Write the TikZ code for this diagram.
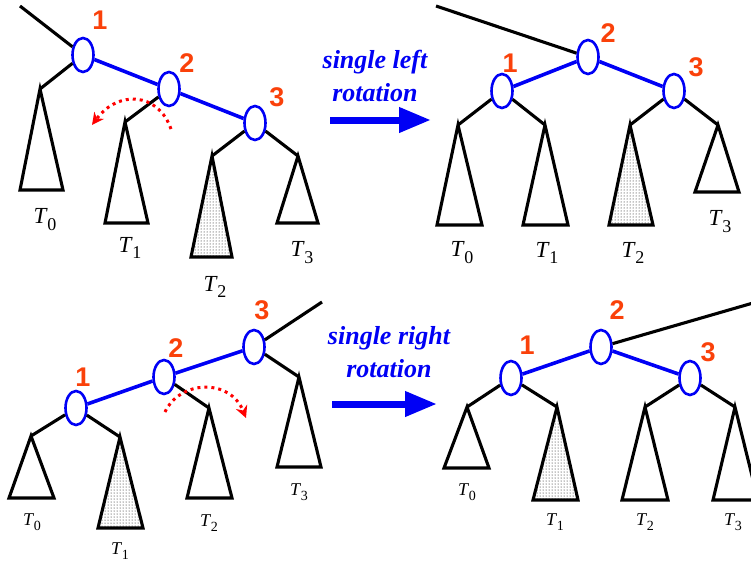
\documentclass[tikz,border=0pt]{standalone}
\usepackage{fontspec}
\setmainfont{Liberation Serif}
\newfontfamily\numfont{Liberation Sans}
\usetikzlibrary{shapes.geometric, arrows.meta, patterns}
\definecolor{numred}{RGB}{250,65,10}
\definecolor{rotblue}{RGB}{0,0,245}
\newcommand\tname[3]{\fontsize{#1}{#1}\selectfont\textit{T}\kern-0.5pt\raisebox{-0.3em}{\fontsize{#2}{#2}\selectfont #3}}

\begin{document}
\begin{tikzpicture}[x=1pt, y=-1pt,
        key/.style={ellipse, draw=rotblue, line width=2.6pt, fill=white, minimum width=21pt, minimum height=34pt, inner sep=0pt},
        num/.style={text=numred, font=\numfont\bfseries\fontsize{27}{27}\selectfont},
        edge/.style={line width=3.1pt, black},
        link/.style={line width=3.6pt, rotblue},
        tri/.style={line width=3.1pt, line join=miter},
        trid/.style={tri, pattern=dots},
        rot/.style={text=rotblue, align=center, font=\bfseries\itshape\fontsize{26}{33}\selectfont},
        rotarrow/.style={rotblue, line width=7pt, -{Triangle[length=32pt, width=24pt]}},
        turn/.style={red, line width=3pt, dash pattern=on 3pt off 4pt, -{Stealth[length=12pt, width=12pt]}}]
    \useasboundingbox (0,0) rectangle (751,562);
    \foreach \n/\x/\y in {a1/83/55, a2/169/89, a3/255/123, b1/502/91, b2/588/57, b3/674/91,
            c1/76/408, c2/164/377, c3/254/347, d1/511/378, d2/601/347, d3/690/378}
        \node[key] (\n) at (\x,\y) {};
    \foreach \n/\x/\y/\t in {a1/100/20/1, a2/187/63/2, a3/277/97/3, b1/510/63/1, b2/608/33/2, b3/696/67/3,
            c1/83/377/1, c2/176/348/2, c3/262/310/3, d1/527/345/1, d2/617/310/2, d3/708/352/3}
        \node[num] (n\n) at (\x,\y) {\t};
    \foreach \n/\x/\y/\l/\r/\b/\s in {aT0/40/89/20/63/190/tri, aT1/125/122/105/148/223/tri,
            aT2/212/156/191/232/257/trid, aT3/298/156/277/318/223/tri,
            bT0/458/125/437/482/225/tri, bT1/545/125/523/568/225/tri,
            bT2/630/125/609/653/225/trid, bT3/718/125/695/739/192/tri,
            cT0/31/436/9/54/498/tri, cT1/120/437/98/143/528/trid,
            cT2/209/408/187/232/498/tri, cT3/299/377/277/321/467/tri,
            dT0/467/407/444/489/468/tri, dT1/557/407/533/578/500/trid,
            dT2/645/407/622/668/500/tri, dT3/735/407/713/758/500/tri}
        {\coordinate (\n) at (\x,\y);
         \draw[\s] (\n) -- (\l,\b) -- (\r,\b) -- cycle;}
    \foreach \n/\x/\y/\i/\f/\g in {aL0/45/220/0/23/18, aL1/130/248/1/23/18, aL2/215/287/2/23/18, aL3/302/253/3/23/18,
            bL0/462/253/0/23/18, bL1/547/253/1/23/18, bL2/633/253/2/23/18, bL3/720/222/3/23/18,
            cL0/32/522/0/18/14, cL1/120/551/1/18/14, cL2/209/523/2/18/14, cL3/299/492/3/18/14,
            dL0/467/492/0/18/14, dL1/555/522/1/18/14, dL2/645/522/2/18/14, dL3/733/522/3/18/14}
        \node[inner sep=0pt] (\n) at (\x,\y) {\tname{\f}{\g}{\i}};
    \coordinate (aUp) at (20,6);
    \coordinate (bUp) at (436,6);
    \coordinate (cUp) at (322,302);
    \coordinate (dUp) at (753,303);
    \foreach \p/\q in {a1/aUp, a1/aT0, a2/aT1, a3/aT2, a3/aT3,
            b2/bUp, b1/bT0, b1/bT1, b3/bT2, b3/bT3,
            c3/cUp, c1/cT0, c1/cT1, c2/cT2, c3/cT3,
            d2/dUp, d1/dT0, d1/dT1, d3/dT2, d3/dT3}
        \draw[edge] (\p) -- (\q);
    \foreach \p/\q in {a1/a2, a2/a3, b2/b1, b2/b3, c1/c2, c2/c3, d2/d1, d2/d3}
        \draw[link] (\p) -- (\q);
    \node[rot] (leftrot) at (375,76) {single left\\rotation};
    \node[rot] (rightrot) at (389,352) {single right\\rotation};
    \coordinate (lfrom) at (330,120);
    \coordinate (lto) at (431,120);
    \coordinate (rfrom) at (332,404);
    \coordinate (rto) at (437,404);
    \draw[rotarrow] (lfrom) -- (lto);
    \draw[rotarrow] (rfrom) -- (rto);
    \coordinate (aS) at (171,129);
    \coordinate (aE) at (92,125);
    \coordinate (cS) at (165,412);
    \coordinate (cE) at (246,418);
    \draw[turn] (aS) .. controls (158,92) and (118,90) .. (aE);
    \draw[turn] (cS) .. controls (180,380) and (230,378) .. (cE);
\end{tikzpicture}
\end{document}
